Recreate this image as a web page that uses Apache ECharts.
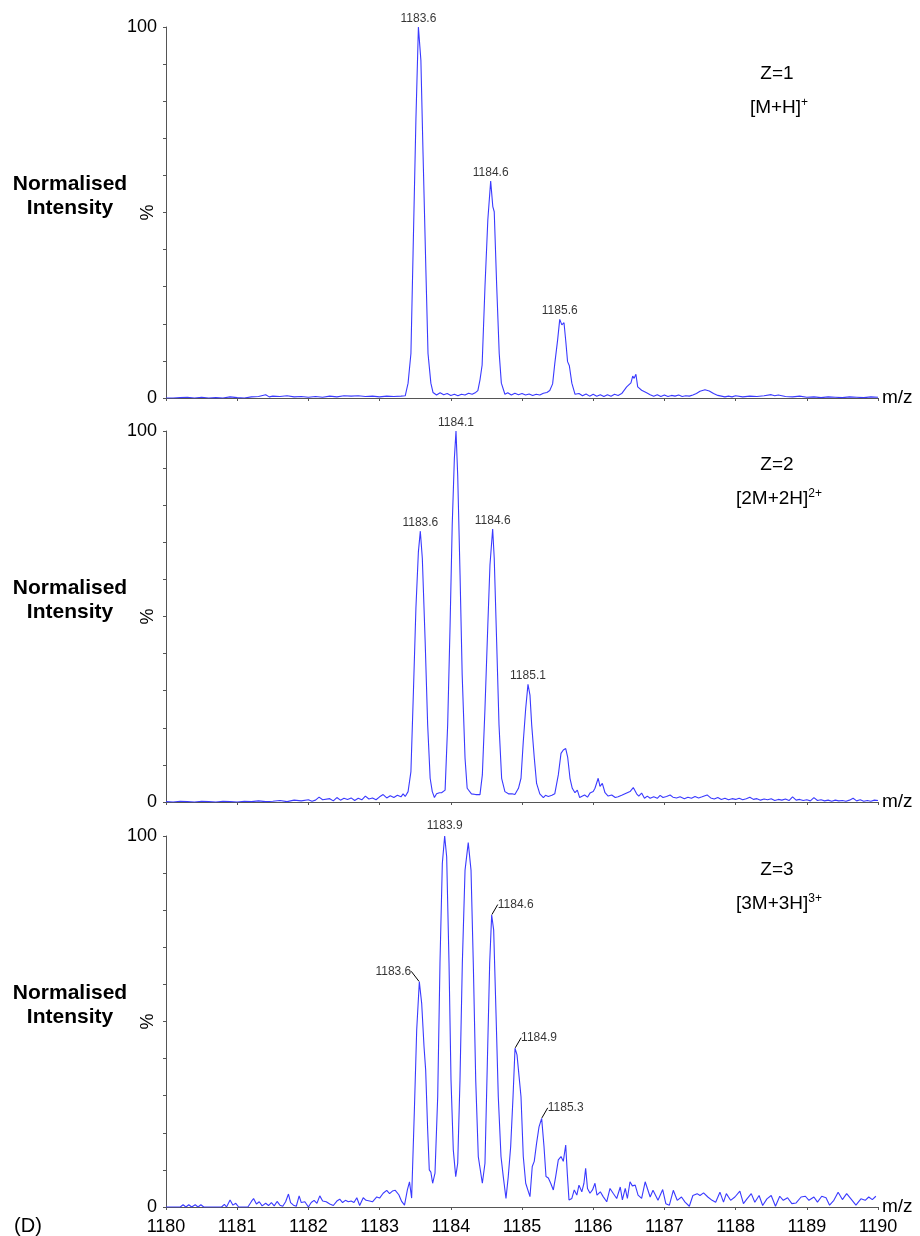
<!DOCTYPE html>
<html>
<head>
<meta charset="utf-8">
<script src="https://cdn.jsdelivr.net/npm/echarts@6/dist/echarts.min.js"></script>
<style>
html,body{margin:0;padding:0;background:#fff;}
#chart{width:920px;height:1236px;}
</style>
</head>
<body>
<div id="chart"></div>
<script>
// ---------- DATA ----------
const xTicks = [1180,1181,1182,1183,1184,1185,1186,1187,1188,1189,1190];

const spectrumZ1 = [
[1180.0,0],[1180.1,0],[1180.2,0.1],[1180.3,0.2],[1180.4,0],[1180.5,0.2],[1180.6,0],[1180.7,0.1],[1180.8,0],[1180.9,0.3],[1181.0,0.1],[1181.1,0],[1181.2,0.3],[1181.3,0.4],[1181.4,0.9],[1181.45,0.3],[1181.5,0.5],[1181.6,0.4],[1181.7,0.6],[1181.8,0.3],[1181.9,0.4],[1182.0,0.2],[1182.1,0.4],[1182.2,0.2],[1182.3,0.5],[1182.4,0.3],[1182.5,0.6],[1182.6,0.5],[1182.7,0.6],[1182.8,0.4],[1182.9,0.5],[1183.0,0.3],[1183.1,0.5],[1183.2,0.4],[1183.3,0.5],
[1183.36,0.6],[1183.40,4],[1183.44,12],[1183.47,39],[1183.51,75],[1183.545,100],[1183.58,91],[1183.61,66],[1183.65,34.5],[1183.68,12],[1183.72,4],[1183.75,1.5],[1183.8,0.8],[1183.85,1.4],[1183.9,0.9],[1183.95,1.2],[1184.0,0.7],[1184.05,1.0],[1184.1,0.6],[1184.15,1.0],[1184.2,0.8],[1184.25,1.3],[1184.3,1.0],[1184.35,1.5],
[1184.38,2],[1184.41,4.9],[1184.44,8.9],[1184.48,30],[1184.52,48],[1184.56,58.5],[1184.59,51.6],[1184.61,50.2],[1184.645,30],[1184.68,12],[1184.71,4],[1184.76,1],[1184.8,1.4],[1184.85,0.8],[1184.9,1.3],[1184.95,0.9],[1185.0,1.2],[1185.05,0.8],[1185.1,1.1],[1185.15,0.7],[1185.2,1.0],[1185.25,0.8],[1185.3,1.3],[1185.35,1.5],
[1185.39,2],[1185.43,3.8],[1185.46,9.2],[1185.5,15.6],[1185.53,21.2],[1185.56,19.7],[1185.59,20.3],[1185.615,15.3],[1185.64,9.8],[1185.665,8.7],[1185.7,4],[1185.745,1],[1185.8,1.2],[1185.85,0.6],[1185.9,1.1],[1185.95,0.5],[1186.0,1.0],[1186.05,0.5],[1186.1,0.9],[1186.15,0.4],[1186.2,0.9],[1186.25,0.5],[1186.3,1.0],[1186.35,0.7],
[1186.4,1.2],[1186.47,3],[1186.53,4.1],[1186.555,5.9],[1186.575,5.3],[1186.6,6.4],[1186.625,3],[1186.68,2.1],[1186.75,1.4],[1186.8,0.9],[1186.85,0.5],[1186.9,0.9],[1186.95,0.4],[1187.0,0.8],[1187.05,0.4],[1187.1,0.7],[1187.15,0.5],[1187.2,0.8],[1187.25,0.4],[1187.3,0.6],[1187.35,0.5],[1187.4,0.8],[1187.45,1.2],[1187.5,1.8],[1187.57,2.2],[1187.63,1.9],[1187.69,1.2],[1187.75,0.7],[1187.8,0.5],[1187.85,0.3],[1187.9,0.5],[1187.95,0.3],[1188.0,0.6],[1188.1,0.3],[1188.2,0.5],[1188.3,0.4],[1188.4,0.6],[1188.5,0.9],[1188.55,0.6],[1188.6,0.8],[1188.7,0.4],[1188.8,0.3],[1188.9,0.5],[1189.0,0.2],[1189.1,0.3],[1189.2,0.1],[1189.3,0.3],[1189.4,0.2],[1189.5,0.1],[1189.6,0.3],[1189.7,0.2],[1189.8,0.1],[1189.9,0.3],[1190.0,0.2]
];

const spectrumZ2 = [
[1180.0,0.1],[1180.1,0],[1180.2,0.2],[1180.3,0.1],[1180.4,0],[1180.5,0.2],[1180.6,0.1],[1180.7,0],[1180.8,0.2],[1180.9,0.1],[1181.0,0],[1181.1,0.2],[1181.2,0.1],[1181.3,0.3],[1181.4,0.1],[1181.5,0.2],[1181.6,0.4],[1181.7,0.1],[1181.8,0.5],[1181.9,0.3],[1182.0,0.6],[1182.05,0.2],[1182.1,0.5],[1182.15,1.3],[1182.2,0.6],[1182.3,0.9],[1182.35,0.3],[1182.4,1.2],[1182.45,0.5],[1182.5,1.0],[1182.55,0.7],[1182.6,1.1],[1182.65,0.4],[1182.7,1.0],[1182.75,0.6],[1182.8,1.6],[1182.85,0.8],[1182.9,1.1],[1182.95,0.6],[1183.0,1.4],[1183.05,2.0],[1183.1,1.1],[1183.15,1.7],[1183.2,1.2],[1183.25,1.8],[1183.3,1.4],[1183.33,2.2],[1183.36,1.5],
[1183.40,2.8],[1183.44,8.2],[1183.475,29.7],[1183.51,52.2],[1183.545,67.5],[1183.572,73],[1183.6,65.7],[1183.64,43.2],[1183.675,20.8],[1183.71,6.4],[1183.74,2.8],[1183.77,1.2],[1183.8,2.2],[1183.84,2.5],[1183.87,2.5],[1183.92,3.2],
[1183.956,20.8],[1183.99,47.7],[1184.02,74.7],[1184.05,92.6],[1184.073,100],[1184.097,88],[1184.13,61.2],[1184.16,34.2],[1184.2,11.8],[1184.23,3.7],[1184.29,2.2],[1184.35,2.0],[1184.41,2.0],
[1184.443,7.3],[1184.48,25.2],[1184.52,47.7],[1184.55,63.9],[1184.588,73.6],[1184.61,65.7],[1184.644,43.2],[1184.677,20.8],[1184.714,6.4],[1184.76,2.8],[1184.81,2.2],[1184.86,2.2],[1184.9,2.0],[1184.95,3.7],
[1184.986,6.4],[1185.018,16.3],[1185.052,25.2],[1185.084,31.7],[1185.112,28.8],[1185.136,20.8],[1185.172,12],[1185.205,5],[1185.25,2.2],[1185.3,1.2],[1185.33,1.8],[1185.37,1.5],[1185.42,1.8],[1185.46,2.2],
[1185.51,7.3],[1185.548,13.1],[1185.58,14],[1185.614,14.4],[1185.642,12],[1185.674,6.4],[1185.706,3.7],[1185.744,2.5],[1185.777,3.2],[1185.81,1.2],[1185.85,1.6],[1185.88,1.9],[1185.92,1.3],[1185.955,2.4],[1186.0,2.8],[1186.025,3.7],[1186.07,6.4],[1186.096,4.2],[1186.128,5.0],[1186.166,2.5],[1186.21,1.6],[1186.26,1.9],[1186.31,1.2],[1186.35,1.4],[1186.4,1.8],[1186.447,2.2],[1186.517,2.8],[1186.563,3.9],[1186.61,2.2],[1186.64,1.6],[1186.68,2.4],[1186.72,1.0],[1186.76,1.6],[1186.8,1.0],[1186.85,1.4],[1186.9,1.0],[1186.94,1.8],[1186.98,1.2],[1187.03,1.5],[1187.08,1.9],[1187.12,1.3],[1187.17,1.1],[1187.22,1.4],[1187.28,0.9],[1187.33,1.3],[1187.38,1.0],[1187.43,1.5],[1187.48,1.1],[1187.53,1.4],[1187.6,1.9],[1187.65,1.1],[1187.7,0.8],[1187.75,1.2],[1187.8,0.7],[1187.85,1.0],[1187.9,0.6],[1187.95,0.9],[1188.0,0.7],[1188.05,1.0],[1188.1,0.6],[1188.15,0.9],[1188.2,1.3],[1188.25,0.7],[1188.3,0.9],[1188.35,0.5],[1188.4,0.8],[1188.45,0.6],[1188.5,0.9],[1188.55,0.4],[1188.6,0.7],[1188.65,0.5],[1188.7,0.8],[1188.75,0.4],[1188.8,1.4],[1188.85,0.5],[1188.9,0.7],[1188.95,0.4],[1189.0,0.6],[1189.05,0.3],[1189.1,1.2],[1189.15,0.4],[1189.2,0.6],[1189.25,0.3],[1189.3,0.5],[1189.35,0.2],[1189.4,0.5],[1189.45,0.3],[1189.5,0.4],[1189.55,0.2],[1189.6,0.5],[1189.65,1.0],[1189.7,0.3],[1189.75,0.6],[1189.8,0.2],[1189.85,0.4],[1189.9,0.2],[1189.95,0.5],[1190.0,0.4]
];

const spectrumZ3 = [
[1180.0,0],[1180.1,0],[1180.2,0],[1180.24,0.6],[1180.28,0],[1180.32,0.6],[1180.36,0],[1180.41,0.6],[1180.45,0],[1180.49,0.6],[1180.53,0],[1180.6,0],[1180.7,0],[1180.78,0],[1180.82,0.7],[1180.85,0],[1180.9,1.9],[1180.94,0.5],[1180.98,1.0],[1181.02,0],[1181.1,0],[1181.15,0],[1181.2,1.5],[1181.23,2.3],[1181.27,0.8],[1181.31,1.4],[1181.35,0.3],[1181.4,1.0],[1181.44,0.4],[1181.48,1.2],[1181.52,0.3],[1181.56,1.5],[1181.6,0.5],[1181.64,0.2],[1181.68,1.4],[1181.72,3.5],[1181.75,1.2],[1181.79,0.5],[1181.83,0.2],[1181.87,3.0],[1181.9,1.2],[1181.95,1.4],[1182.0,0],[1182.04,1.2],[1182.08,1.8],[1182.12,1.0],[1182.16,3.0],[1182.2,1.6],[1182.25,1.4],[1182.3,0.8],[1182.35,0.4],[1182.4,1.6],[1182.44,2.1],[1182.48,1.2],[1182.52,1.8],[1182.56,1.4],[1182.6,1.6],[1182.64,1.2],[1182.68,2.5],[1182.72,0.4],[1182.77,2.5],[1182.81,1.8],[1182.86,1.6],[1182.9,1.4],[1182.96,2.7],[1183.0,2.4],[1183.05,3.7],[1183.1,4.5],[1183.14,3.6],[1183.18,4.3],[1183.22,4.5],[1183.27,3.3],[1183.31,1.5],[1183.35,0.5],[1183.39,4.6],[1183.42,6.8],[1183.45,2.4],
[1183.487,25.2],[1183.521,47.7],[1183.558,60.7],[1183.591,54.9],[1183.624,43.2],[1183.647,36.9],[1183.675,20.8],[1183.698,10],[1183.72,9.4],[1183.745,6.4],[1183.778,9.1],
[1183.816,29.7],[1183.848,65.7],[1183.881,92.6],[1183.914,100],[1183.942,94.4],[1183.975,65.7],[1184.003,34.2],[1184.035,15.4],[1184.069,8.2],[1184.097,11.8],
[1184.129,34.2],[1184.162,65.7],[1184.2,90.8],[1184.245,98.2],[1184.284,90.8],[1184.316,65.7],[1184.35,34.2],[1184.386,13.6],[1184.443,6.4],[1184.48,11.8],
[1184.513,38.7],[1184.546,65.7],[1184.574,78.7],[1184.602,74.7],[1184.635,52.2],[1184.667,29.7],[1184.705,13.6],[1184.737,8.2],[1184.775,2.3],[1184.807,8.2],
[1184.841,16.3],[1184.874,29.7],[1184.902,42.8],[1184.93,41],[1184.958,41.5],[1184.986,29.7],[1185.018,13.6],[1185.052,6.4],[1185.08,6.6],[1185.112,2.8],[1185.144,10.9],[1185.172,12.3],
[1185.205,17.2],[1185.239,21.6],[1185.276,23.9],[1185.309,16.3],[1185.337,8.2],[1185.37,7.8],[1185.403,6.4],[1185.44,4.6],[1185.473,8.2],[1185.51,12.7],[1185.548,13.6],[1185.58,12.3],[1185.614,16.7],[1185.636,9.1],[1185.66,1.9],[1185.7,2.3],[1185.734,4.6],[1185.77,3.2],[1185.8,5.9],[1185.84,4.1],[1185.87,6.4],[1185.894,10.4],[1185.92,5],[1185.955,3.7],[1185.99,4.6],[1186.025,6.4],[1186.053,3.2],[1186.1,4.1],[1186.14,2.8],[1186.19,1.4],[1186.236,5],[1186.28,3.7],[1186.33,2.3],[1186.38,5.4],[1186.41,1.9],[1186.45,5],[1186.48,2.3],[1186.517,6.8],[1186.55,5.7],[1186.59,5.9],[1186.63,3.2],[1186.68,2.3],[1186.73,6.8],
[1186.8,2.7],[1186.84,4.5],[1186.91,1.8],[1186.976,4.7],[1187.02,0.9],[1187.07,0.5],[1187.125,4.5],[1187.18,1.8],[1187.24,2.7],[1187.29,1.3],[1187.35,0.2],[1187.4,3.1],[1187.46,3.6],[1187.5,3.1],[1187.55,3.8],[1187.61,2.7],[1187.67,1.8],[1187.72,1.3],[1187.78,4.0],[1187.83,1.3],[1187.87,3.6],[1187.93,1.8],[1187.99,2.7],[1188.06,4.3],[1188.11,0.9],[1188.16,2.2],[1188.22,3.6],[1188.27,1.3],[1188.33,3.1],[1188.38,0.4],[1188.44,2.2],[1188.5,3.1],[1188.56,0.2],[1188.62,2.9],[1188.67,1.8],[1188.73,2.5],[1188.79,0.9],[1188.85,1.1],[1188.92,2.7],[1188.98,2.9],[1189.03,1.8],[1189.1,2.7],[1189.15,1.3],[1189.21,2.9],[1189.27,2.5],[1189.32,0.5],[1189.38,1.8],[1189.44,4.0],[1189.5,2.0],[1189.56,3.6],[1189.62,2.2],[1189.69,0.5],[1189.76,2.2],[1189.82,1.8],[1189.87,2.7],[1189.92,2.0],[1189.97,2.9]
];

// peak labels: [m/z, intensity, text]
const peaksZ1 = [[1183.545,100,'1183.6'],[1184.56,58.5,'1184.6'],[1185.53,21.2,'1185.6']];
const peaksZ2 = [[1183.572,73,'1183.6'],[1184.073,100,'1184.1'],[1184.588,73.6,'1184.6'],[1185.084,31.7,'1185.1']];
const peaksZ3 = [[1183.558,60.7,'1183.6'],[1183.914,100,'1183.9'],[1184.574,78.7,'1184.6'],[1184.902,42.8,'1184.9'],[1185.276,23.9,'1185.3']];

const panelCharge = ['Z=1','Z=2','Z=3'];
const panelIon = [['[M+H]','+'],['[2M+2H]','2+'],['[3M+3H]','3+']];
const yLabelText = ['Normalised','Intensity'];

// ---------- LAYOUT / STYLE ----------
const FONT = '"Liberation Sans", Arial, Helvetica, sans-serif';
const LINE = '#3a3aff';
const AXIS = '#555';
const grids = [
  {left:166, width:712, top:27, height:371, outerBoundsMode:'none', containLabel:false},
  {left:166, width:712, top:431, height:371, outerBoundsMode:'none', containLabel:false},
  {left:166, width:712, top:836, height:371, outerBoundsMode:'none', containLabel:false}
];
const spectra = [spectrumZ1, spectrumZ2, spectrumZ3];
const peaks = [peaksZ1, peaksZ2, peaksZ3];
// label offsets for Z=3 (leader lines)
const z3Offsets = [-26, 0, 24, 24, 24];

const xAxes = grids.map((g,i)=>({
  type:'value', gridIndex:i, min:1180, max:1190, interval:1,
  axisLine:{show:true, onZero:false, lineStyle:{color:AXIS, width:1}},
  axisTick:{show:true, length:3, lineStyle:{color:AXIS}},
  axisLabel:{show:i===2, color:'#000', fontSize:18, fontFamily:FONT, margin:11,
    formatter:v=>xTicks.indexOf(v)>=0?String(v):''},
  splitLine:{show:false},
  name:'m/z', nameLocation:'end', nameGap:4,
  nameTextStyle:{color:'#000', fontSize:19, fontFamily:FONT, verticalAlign:'middle'}
}));
const yAxes = grids.map((g,i)=>({
  type:'value', gridIndex:i, min:0, max:100, interval:10,
  axisLine:{show:true, lineStyle:{color:AXIS, width:1}},
  axisTick:{show:true, length:3, lineStyle:{color:AXIS}},
  axisLabel:{color:'#000', fontSize:18, fontFamily:FONT, margin:9,
    formatter:v=>(v===0||v===100)?String(v):''},
  splitLine:{show:false}
}));

const series = [];
spectra.forEach((d,i)=>{
  series.push({
    type:'line', xAxisIndex:i, yAxisIndex:i, data:d, showSymbol:false, symbol:'none',
    lineStyle:{color:LINE, width:1.1}, animation:false, silent:true, z:3
  });
});
peaks.forEach((p,i)=>{
  const data = p.map((pk,j)=>{
    const item = {value:[pk[0],pk[1]], name:pk[2]};
    if(i===2 && z3Offsets[j]===0){ item.labelLine = {show:false}; }
    return item;
  });
  const s = {
    type:'scatter', xAxisIndex:i, yAxisIndex:i, data:data, symbolSize:1,
    itemStyle:{color:'rgba(0,0,0,0)'}, animation:false, silent:true, z:5,
    label:{show:true, position:'top', distance:i===2?4:2, formatter:'{b}',
      color:'#000', fontSize:12, fontFamily:FONT}
  };
  if(i===2){
    s.labelLayout = function(params){ return {dx:z3Offsets[params.dataIndex], dy:0}; };
    s.labelLine = {show:true, length2:0, lineStyle:{color:'#000', width:1}};
  }
  series.push(s);
});

const graphics = [];
grids.forEach((g,i)=>{
  graphics.push({
    type:'text', x:70, y:g.top+169,
    style:{text:yLabelText.join('\n'), font:'bold 21px '+FONT, fill:'#000',
      align:'center', verticalAlign:'middle', lineHeight:24}
  });
  graphics.push({
    type:'text', x:148, y:g.top+g.height/2, rotation:Math.PI/2,
    style:{text:'%', font:'18px '+FONT, fill:'#000', align:'center', verticalAlign:'middle'}
  });
  graphics.push({
    type:'text', x:777, y:g.top+(i===0?47:34),
    style:{text:panelCharge[i], font:'19px '+FONT, fill:'#000', align:'center', verticalAlign:'middle'}
  });
  graphics.push({
    type:'text', x:779, y:g.top+(i===0?80:67),
    style:{text:'{a|'+panelIon[i][0]+'}{s|'+panelIon[i][1]+'}', align:'center', verticalAlign:'middle',
      rich:{a:{font:'19px '+FONT, fill:'#000', verticalAlign:'bottom'},
            s:{font:'12px '+FONT, fill:'#000', verticalAlign:'top', padding:[0,0,8,0]}}}
  });
});
graphics.push({
  type:'text', x:28, y:1226,
  style:{text:'(D)', font:'20px '+FONT, fill:'#000', align:'center', verticalAlign:'middle'}
});

const chart = echarts.init(document.getElementById('chart'), null, {renderer:'canvas'});
chart.setOption({
  backgroundColor:'#fff',
  animation:false,
  grid:grids,
  xAxis:xAxes,
  yAxis:yAxes,
  series:series,
  graphic:graphics
});
</script>
</body>
</html>
